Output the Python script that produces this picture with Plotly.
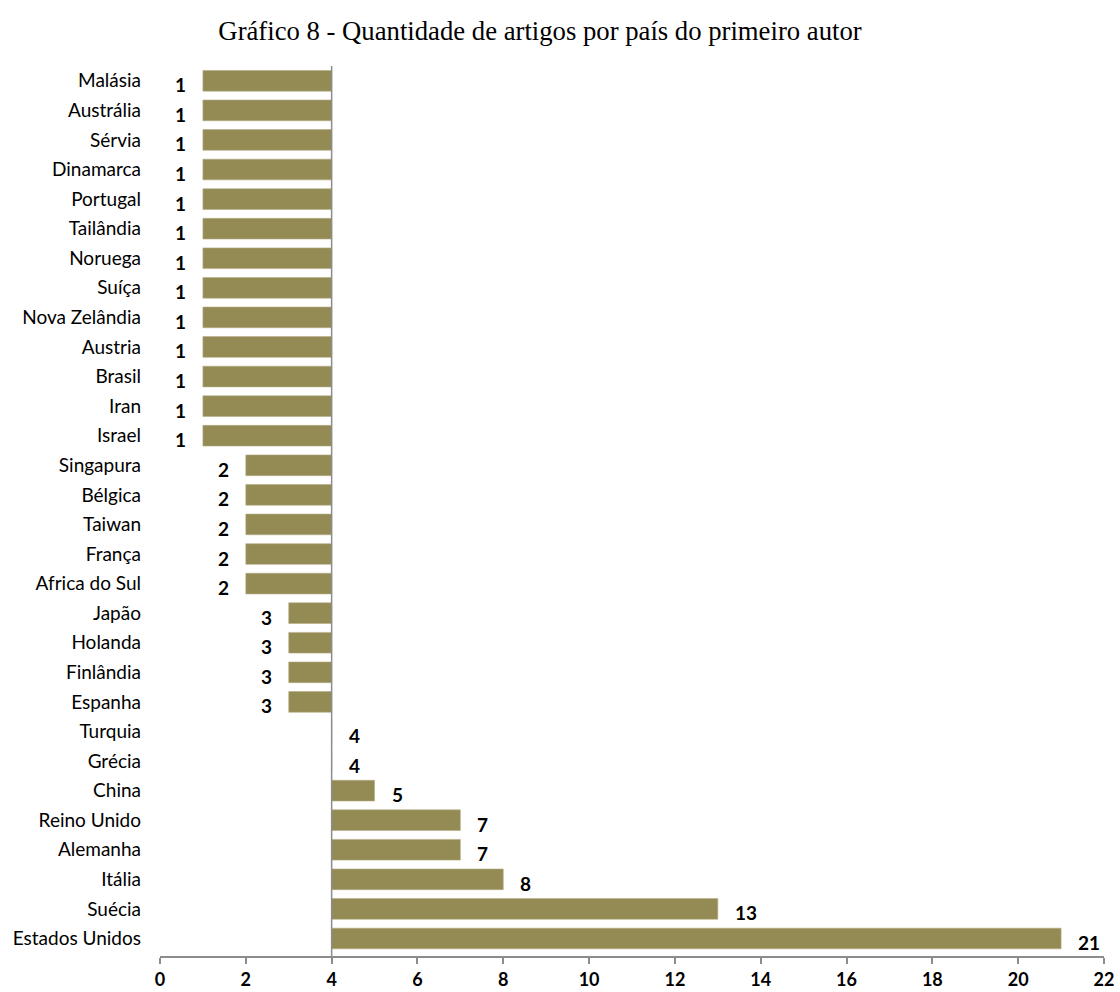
import plotly.graph_objects as go

# Countries of first authors and number of articles
countries = [
    "Malásia", "Austrália", "Sérvia", "Dinamarca", "Portugal", "Tailândia",
    "Noruega", "Suíça", "Nova Zelândia", "Austria", "Brasil", "Iran", "Israel",
    "Singapura", "Bélgica", "Taiwan", "França", "Africa do Sul",
    "Japão", "Holanda", "Finlândia", "Espanha",
    "Turquia", "Grécia", "China", "Reino Unido", "Alemanha", "Itália",
    "Suécia", "Estados Unidos",
]
articles = [1, 1, 1, 1, 1, 1, 1, 1, 1, 1, 1, 1, 1,
            2, 2, 2, 2, 2,
            3, 3, 3, 3,
            4, 4, 5, 7, 7, 8, 13, 21]

axis_cross = 4          # value axis crosses the category axis here
x_ticks = list(range(0, 23, 2))

title_text = "Gráfico 8 - Quantidade de artigos por país do primeiro autor"

BAR_COLOR = "#948A54"
AXIS_COLOR = "#8C8C8C"
SANS = "Lato, Calibri, Carlito, sans-serif"

fig = go.Figure()

fig.add_trace(go.Bar(
    y=countries,
    x=[v - axis_cross for v in articles],
    base=axis_cross,
    orientation="h",
    marker=dict(color=BAR_COLOR, line=dict(color="#B3AC84", width=0.6)),
    width=0.7,
    hovertemplate="%{y}: %{customdata}<extra></extra>",
    customdata=articles,
    showlegend=False,
))

# Value labels at the outer end of each bar
for c, v in zip(countries, articles):
    left = v < axis_cross
    fig.add_annotation(
        x=v, y=c, xref="x", yref="y",
        text=f"<b>{v}</b>",
        showarrow=False,
        xanchor="right" if left else "left",
        xshift=-15 if left else 15,
        yshift=-4,
        font=dict(family=SANS, size=19, color="#000000"),
    )

# Vertical axis line at the crossing value
fig.add_shape(
    type="line", xref="x", yref="paper",
    x0=axis_cross, x1=axis_cross, y0=0, y1=1,
    line=dict(color=AXIS_COLOR, width=1.5),
)

fig.update_layout(
    width=1120, height=992,
    margin=dict(l=160, r=16, t=66, b=36),
    paper_bgcolor="white", plot_bgcolor="white",
    title=dict(
        text=title_text, x=540 / 1120, xanchor="center", y=1 - 31 / 992, yanchor="middle",
        font=dict(family="Liberation Serif, Times New Roman, serif", size=26.7, color="#000000"),
    ),
    bargap=0.3,
    xaxis=dict(
        range=[0, 22], tickvals=x_ticks, ticktext=[str(t) for t in x_ticks],
        showgrid=False, zeroline=False,
        showline=True, linecolor=AXIS_COLOR, linewidth=1.5,
        ticks="outside", ticklen=6, tickcolor=AXIS_COLOR, tickwidth=1.5,
        tickfont=dict(family=SANS, size=18, color="#000000", weight="bold"),
        ticklabelstandoff=1,
        automargin=False,
        fixedrange=True,
    ),
    yaxis=dict(
        categoryorder="array", categoryarray=list(reversed(countries)),
        showgrid=False, zeroline=False, showline=False,
        ticks="", ticklabelstandoff=18,
        tickfont=dict(family=SANS, size=19, color="#000000"),
        automargin=False,
        fixedrange=True,
    ),
)

fig.write_html("out.html")
